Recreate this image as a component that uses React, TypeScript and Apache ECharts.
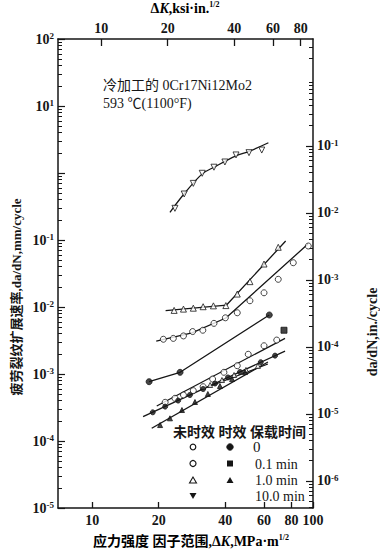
import { useEffect, useRef } from 'react';
import * as echarts from 'echarts';

// ---------- axis ranges ----------
const X_MIN = 7;
const X_MAX = 100;
const Y_MIN = 1e-5;
const Y_MAX = 100;
const IN_PER_MM = 0.03937;
const MPA_PER_KSI = 1.0988;

// ---------- tick labels ----------
const bottomTicks = [10, 20, 40, 60, 80, 100];
const topTicksKsi = [10, 20, 40, 60, 80];
const leftDecades = [-5, -4, -3, -2, -1, 0, 1, 2];
const leftLabelDecades = [-5, -4, -3, -2, -1, 1, 2];
const rightDecades = [-6, -5, -4, -3, -2, -1];

// ---------- data: [ΔK MPa·m^1/2, da/dN mm/cycle] ----------
// 10.0 min hold, unaged (open inverted triangles)
const hold10Pts = [[23.7, 0.297], [26.1, 0.486], [28.7, 0.7], [31.5, 0.99], [35.6, 1.22], [39.9, 1.46], [44.8, 1.86], [51.3, 2.01], [58.6, 2.2]];
const hold10Fit = [[22.5, 0.259], [26.1, 0.49], [31.5, 0.97], [35.6, 1.22], [44.8, 1.8], [51.3, 2.1], [62.8, 2.83]];
// 1.0 min hold, unaged (open triangles)
const hold1Pts = [[23.5, 0.0089], [25.9, 0.0093], [28.7, 0.0096], [31.8, 0.0101], [35.4, 0.0104], [40.3, 0.0105], [45.4, 0.0156], [51.8, 0.0239], [60.0, 0.0438], [69.6, 0.0778]];
const hold1Fit = [[21.5, 0.0088], [40.6, 0.0107], [75.2, 0.0966]];
// 0.1 min hold, unaged (open circles)
const hold01Pts = [[21.0, 0.0033], [23.3, 0.0034], [25.9, 0.0037], [28.5, 0.0043], [31.7, 0.0045], [35.6, 0.0057], [40.1, 0.0069], [45.4, 0.0082], [51.8, 0.0124], [60.0, 0.0163], [69.6, 0.0259], [81.4, 0.0458], [95.2, 0.0813]];
const hold01Fit = [[19.5, 0.0031], [28.3, 0.0041], [40.3, 0.00685], [94.9, 0.0871]];
// aged, filled circles, kinked line
const agedDotPts = [[18.1, 0.000767], [25.0, 0.00106], [63.4, 0.0076]];
const agedDotFit = [[18.1, 0.000767], [25.0, 0.00106], [63.4, 0.0076]];
// aged 0.1 min (filled square)
const aged01Pts = [[73.9, 0.0045]];
// 0 min hold, unaged (open circles)
const hold0Pts = [[21.4, 0.000378], [23.7, 0.000434], [25.9, 0.000486], [28.7, 0.000564], [31.8, 0.000646], [35.1, 0.000841], [39.5, 0.00106], [45.4, 0.00133], [50.9, 0.00197], [60.0, 0.00264], [68.5, 0.00321]];
const hold0Fit = [[19.6, 0.000333], [74.7, 0.00341]];
// 0 min hold, aged (filled circles)
const aged0Pts = [[18.8, 0.000268], [21.4, 0.000326], [24.5, 0.000401], [27.7, 0.000486], [31.8, 0.000597], [36.0, 0.000721], [41.2, 0.000889], [46.7, 0.00107], [58.0, 0.0015], [67.3, 0.00188]];
const aged0Fit = [[17.0, 0.000231], [74.7, 0.0022]];
// 1.0 min hold, unaged, short line (open small triangles)
const hold1bPts = [[34.2, 0.000685], [38.7, 0.000813], [43.9, 0.000966], [49.7, 0.00115], [56.3, 0.00132]];
const hold1bFit = [[30.8, 0.000577], [62.5, 0.00141]];
// 1.0 min hold, aged (filled triangles)
const aged1Pts = [[20.3, 0.000173], [22.5, 0.000218], [25.5, 0.00029], [29.2, 0.000382], [33.4, 0.000503], [37.9, 0.000662], [43.0, 0.000841], [49.2, 0.00107]];
const aged1Fit = [[18.6, 0.000155], [62.5, 0.00151]];

const SERIF = "'Liberation Serif','DejaVu Serif','Noto Sans CJK SC',serif";
const CJK = "'Liberation Serif','Noto Sans CJK SC',sans-serif";
const INK = '#161616';
const INV_TRI = 'path://M0,0L10,0L5,9Z';

const L = Math.log10;

function minorTicks(lo: number, hi: number) {
  const out: number[] = [];
  for (let k = Math.floor(lo) - 1; k <= Math.ceil(hi); k++) {
    for (let m = 2; m <= 9; m++) {
      const v = k + L(m);
      if (v > lo + 1e-9 && v < hi - 1e-9) out.push(v);
    }
  }
  return out;
}

const expRich = {
  b: { fontSize: 14, fontFamily: SERIF, fontWeight: 'bold' as const, color: INK, lineHeight: 15 },
  s: { fontSize: 9, fontFamily: SERIF, fontWeight: 'bold' as const, color: INK, verticalAlign: 'top' as const, lineHeight: 15 },
};

function fitLine(data: number[][], smooth = false) {
  return {
    type: 'line', data, symbol: 'none', smooth: smooth ? 0.35 : false, silent: true, z: 2,
    lineStyle: { color: INK, width: 1.3 },
  };
}
function pts(data: number[][], symbol: string, filled: boolean, size = 6) {
  return {
    type: 'scatter', data, symbol, symbolSize: size, silent: true, z: 3,
    itemStyle: { color: filled ? INK : '#fff', borderColor: INK, borderWidth: 1 },
  };
}

export default function App() {
  const ref = useRef<HTMLDivElement>(null);
  useEffect(() => {
    document.body.style.margin = '0';
    const chart = echarts.init(ref.current!, null, { renderer: 'svg' });
    const yLoR = L(Y_MIN * IN_PER_MM);
    const yHiR = L(Y_MAX * IN_PER_MM);
    const xLo = L(X_MIN);
    const xHi = L(X_MAX);
    const grid = { left: 58, top: 39, width: 255, height: 469, containLabel: false };

    const hidden = { show: false };
    const frame = { show: true, onZero: false, lineStyle: { color: INK, width: 1.5 } };
    const labelFont = { fontFamily: SERIF, fontSize: 14, fontWeight: 'bold', color: INK };
    const option: any = {
      animation: false,
      backgroundColor: '#fff',
      grid,
      xAxis: [
        {
          type: 'log', logBase: 10, min: X_MIN, max: X_MAX, position: 'bottom',
          axisLine: frame,
          axisTick: hidden, axisLabel: hidden, splitLine: hidden, minorTick: hidden,
        },
        {
          type: 'value', min: xLo, max: xHi, position: 'bottom',
          axisLine: { show: false, onZero: false }, splitLine: hidden,
          axisTick: { show: true, inside: true, length: 6, lineStyle: { color: INK, width: 1.3 }, customValues: bottomTicks.map(L) },
          axisLabel: {
            show: true, margin: 5, customValues: bottomTicks.map(L),
            formatter: (v: number) => String(Math.round(Math.pow(10, v))),
            ...labelFont,
          },
        },
        {
          type: 'value', min: xLo, max: xHi, position: 'top',
          axisLine: frame, splitLine: hidden,
          axisTick: { show: true, inside: true, length: 7, lineStyle: { color: INK, width: 1.3 }, customValues: topTicksKsi.map((k) => L(k * MPA_PER_KSI)) },
          axisLabel: {
            show: true, margin: 4, customValues: topTicksKsi.map((k) => L(k * MPA_PER_KSI)),
            formatter: (v: number) => String(Math.round(Math.pow(10, v) / MPA_PER_KSI)),
            ...labelFont,
          },
        },
      ],
      yAxis: [
        {
          type: 'log', logBase: 10, min: Y_MIN, max: Y_MAX, position: 'left',
          axisLine: frame,
          axisTick: hidden, axisLabel: hidden, splitLine: hidden, minorTick: hidden,
        },
        {
          type: 'value', min: -5, max: 2, position: 'left',
          axisLine: { show: false, onZero: false }, splitLine: hidden,
          axisTick: { show: true, inside: true, length: 7, lineStyle: { color: INK, width: 1.2 }, customValues: leftDecades },
          axisLabel: {
            show: true, margin: 4, customValues: leftLabelDecades,
            formatter: (v: number) => `{b|10}{s|${Math.round(v) < 0 ? '-' + Math.abs(Math.round(v)) : Math.round(v)}}`,
            rich: expRich,
          },
        },
        {
          type: 'value', min: -5, max: 2, position: 'left',
          axisLine: { show: false, onZero: false }, splitLine: hidden, axisLabel: hidden,
          axisTick: { show: true, inside: true, length: 4, lineStyle: { color: INK, width: 1 }, customValues: minorTicks(-5, 2) },
        },
        {
          type: 'value', min: yLoR, max: yHiR, position: 'right',
          axisLine: frame, splitLine: hidden,
          axisTick: { show: true, inside: true, length: 7, lineStyle: { color: INK, width: 1.2 }, customValues: rightDecades },
          axisLabel: {
            show: true, margin: 4, customValues: rightDecades,
            formatter: (v: number) => `{b|10}{s|-${Math.abs(Math.round(v))}}`,
            rich: expRich,
          },
        },
        {
          type: 'value', min: yLoR, max: yHiR, position: 'right',
          axisLine: { show: false, onZero: false }, splitLine: hidden, axisLabel: hidden,
          axisTick: { show: true, inside: true, length: 4, lineStyle: { color: INK, width: 1 }, customValues: minorTicks(yLoR, yHiR) },
        },
      ],
      series: [
        fitLine(hold10Fit, true),
        pts(hold10Pts, INV_TRI, false, 6),
        fitLine(hold1Fit),
        pts(hold1Pts, 'triangle', false, 6),
        fitLine(hold01Fit),
        pts(hold01Pts, 'circle', false, 6),
        fitLine(agedDotFit),
        pts(agedDotPts, 'circle', true, 6),
        pts(aged01Pts, 'rect', true, 6),
        fitLine(hold0Fit),
        pts(hold0Pts, 'circle', false, 6),
        fitLine(aged0Fit),
        pts(aged0Pts, 'circle', true, 5),
        fitLine(hold1bFit),
        pts(hold1bPts, 'triangle', false, 5),
        fitLine(aged1Fit),
        pts(aged1Pts, 'triangle', true, 5),
      ],
      graphic: [
        {
          type: 'text', x: 185, y: 8,
          style: {
            text: '{n|Δ}{i|K}{n|,ksi·in.}{s|1/2}', align: 'center', verticalAlign: 'middle',
            rich: {
              n: { fontSize: 14, fontFamily: SERIF, fontWeight: 'bold', color: INK, lineHeight: 15 },
              i: { fontSize: 14, fontFamily: SERIF, fontWeight: 'bold', fontStyle: 'italic', color: INK, lineHeight: 15 },
              s: { fontSize: 8, fontFamily: SERIF, fontWeight: 'bold', color: INK, verticalAlign: 'top', lineHeight: 15 },
            },
          },
        },
        {
          type: 'text', x: 191, y: 541,
          style: {
            text: '{c|应力强度 因子范围,}{n|Δ}{i|K}{n|,MPa·m}{s|1/2}', align: 'center', verticalAlign: 'middle',
            rich: {
              c: { fontSize: 14, fontFamily: CJK, fontWeight: 'bold', color: INK, lineHeight: 16 },
              n: { fontSize: 14, fontFamily: SERIF, fontWeight: 'bold', color: INK, lineHeight: 16 },
              i: { fontSize: 14, fontFamily: SERIF, fontWeight: 'bold', fontStyle: 'italic', color: INK, lineHeight: 16 },
              s: { fontSize: 8, fontFamily: SERIF, fontWeight: 'bold', color: INK, verticalAlign: 'top', lineHeight: 16 },
            },
          },
        },
        {
          type: 'text', x: 16, y: 297, rotation: Math.PI / 2,
          style: {
            text: '疲劳裂纹扩展速率,da/dN,mm/cycle', align: 'center', verticalAlign: 'middle',
            font: `bold 13px ${CJK}`, fill: INK,
          },
        },
        {
          type: 'text', x: 372, y: 332, rotation: Math.PI / 2,
          style: {
            text: 'da/dN,in./cycle', align: 'center', verticalAlign: 'middle',
            font: `bold 14px ${SERIF}`, fill: INK,
          },
        },
        {
          type: 'text', x: 103, y: 85,
          style: { text: '冷加工的 0Cr17Ni12Mo2', align: 'left', verticalAlign: 'middle', font: `14px ${CJK}`, fill: INK },
        },
        {
          type: 'text', x: 103, y: 103,
          style: { text: '593 ℃(1100°F)', align: 'left', verticalAlign: 'middle', font: `14px ${CJK}`, fill: INK },
        },
        // legend table
        {
          type: 'text', x: 173, y: 432,
          style: { text: '未时效 时效 保载时间', align: 'left', verticalAlign: 'middle', font: `bold 14px ${CJK}`, fill: INK },
        },
        { type: 'circle', shape: { cx: 193, cy: 447, r: 2.8 }, style: { fill: '#fff', stroke: INK, lineWidth: 1.2 } },
        { type: 'circle', shape: { cx: 230, cy: 447, r: 3.2 }, style: { fill: INK, stroke: INK } },
        { type: 'text', x: 253, y: 447, style: { text: '0', align: 'left', verticalAlign: 'middle', font: `15px ${SERIF}`, fill: INK } },
        { type: 'circle', shape: { cx: 193, cy: 463.5, r: 3 }, style: { fill: '#fff', stroke: INK, lineWidth: 1.2 } },
        { type: 'rect', shape: { x: 227, y: 460.5, width: 6, height: 6 }, style: { fill: INK } },
        { type: 'text', x: 255, y: 464, style: { text: '0.1 min', align: 'left', verticalAlign: 'middle', font: `14px ${SERIF}`, fill: INK } },
        { type: 'polygon', shape: { points: [[193, 477], [189.5, 483], [196.5, 483]] }, style: { fill: '#fff', stroke: INK, lineWidth: 1.1 } },
        { type: 'polygon', shape: { points: [[230, 477], [226.5, 483], [233.5, 483]] }, style: { fill: INK } },
        { type: 'text', x: 255, y: 480, style: { text: '1.0 min', align: 'left', verticalAlign: 'middle', font: `14px ${SERIF}`, fill: INK } },
        { type: 'polygon', shape: { points: [[189.5, 493], [196.5, 493], [193, 499]] }, style: { fill: INK } },
        { type: 'text', x: 255, y: 496, style: { text: '10.0 min', align: 'left', verticalAlign: 'middle', font: `14px ${SERIF}`, fill: INK } },
      ],
    };
    chart.setOption(option);
    return () => chart.dispose();
  }, []);
  return <div ref={ref} style={{ width: 380, height: 549 }} />;
}
